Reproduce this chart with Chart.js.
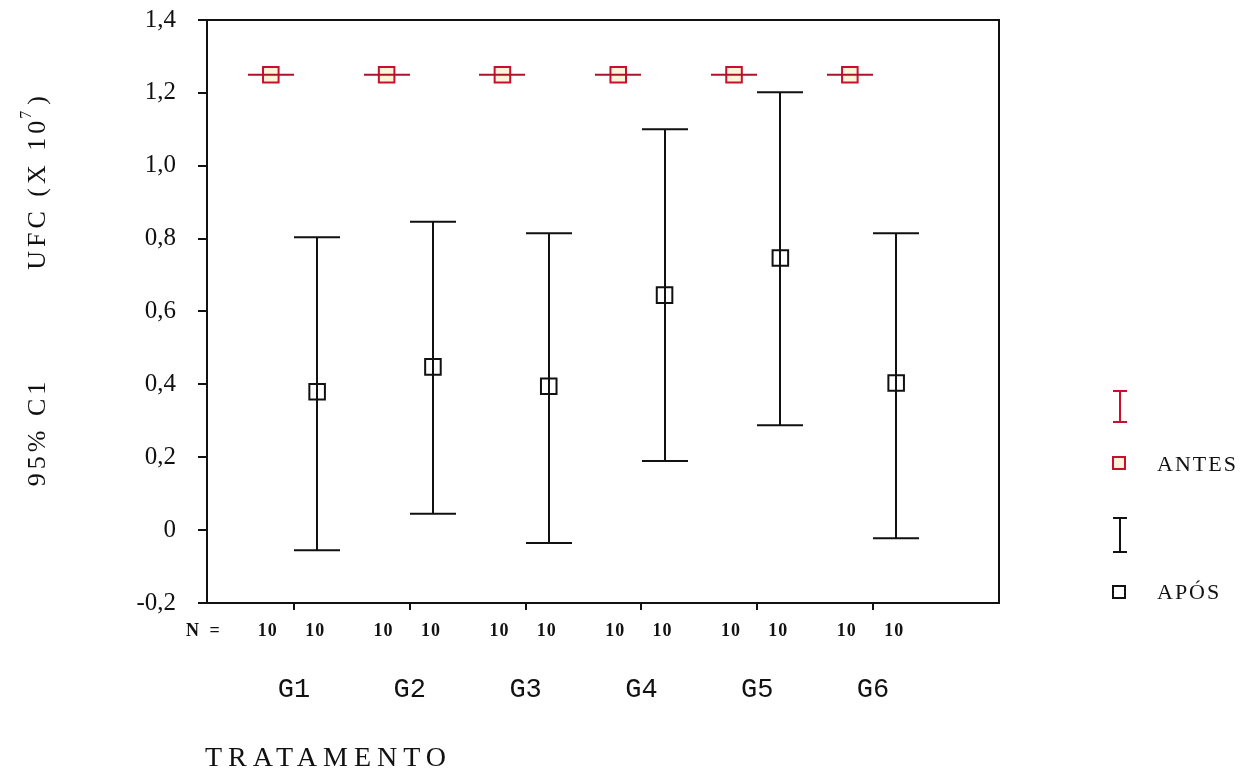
<!DOCTYPE html>
<html>
<head>
<meta charset="utf-8">
<script src="https://cdn.jsdelivr.net/npm/chart.js@4/dist/chart.umd.min.js"></script>
<style>
html,body{margin:0;padding:0;background:#fff;}
canvas{display:block;}
</style>
</head>
<body>
<canvas id="c" width="1256" height="780"></canvas>
<script>
// ---- data ----
const categories = ['G1', 'G2', 'G3', 'G4', 'G5', 'G6'];
const seriesNames = ['ANTES', 'APÓS'];
const antesMean  = [1.25, 1.25, 1.25, 1.25, 1.25, 1.25];
const antesLower = [1.25, 1.25, 1.25, 1.25, 1.25, 1.25];
const antesUpper = [1.25, 1.25, 1.25, 1.25, 1.25, 1.25];
const aposMean   = [0.38, 0.448, 0.395, 0.645, 0.747, 0.404];
const aposLower  = [-0.055, 0.045, -0.035, 0.19, 0.288, -0.022];
const aposUpper  = [0.804, 0.846, 0.815, 1.10, 1.202, 0.815];
const nAntes = [10, 10, 10, 10, 10, 10];
const nApos  = [10, 10, 10, 10, 10, 10];
const yTicks = [-0.2, 0, 0.2, 0.4, 0.6, 0.8, 1.0, 1.2, 1.4];
const xTitle = 'TRATAMENTO';
const yTitle1 = 'UFC (X 10';
const yTitleSup = '7';
const yTitle1End = ')';
const yTitle2 = '95% C1';

const RED = '#c8102e';
const BLACK = '#111';
const OFF = 0.2; // category offset of each series

const antesPts = categories.map((c, i) => ({x: i + 1 - OFF, y: antesMean[i]}));
const aposPts  = categories.map((c, i) => ({x: i + 1 + OFF, y: aposMean[i]}));

function fmt(v) {
  if (Math.abs(v) < 1e-9) return '0';
  return v.toFixed(1).replace('.', ',');
}

const drawPlugin = {
  id: 'extras',
  afterDatasetsDraw(chart) {
    const {ctx, scales: {x, y}} = chart;
    ctx.save();
    ctx.lineWidth = 2;
    function err(lo, hi, off, color) {
      ctx.strokeStyle = color;
      for (let i = 0; i < categories.length; i++) {
        const px = Math.round(x.getPixelForValue(i + 1 + off));
        const yl = y.getPixelForValue(lo[i]);
        const yh = y.getPixelForValue(hi[i]);
        ctx.beginPath();
        ctx.moveTo(px, yl); ctx.lineTo(px, yh);
        ctx.moveTo(px - 23, yl); ctx.lineTo(px + 23, yl);
        ctx.moveTo(px - 23, yh); ctx.lineTo(px + 23, yh);
        ctx.stroke();
      }
    }
    err(antesLower, antesUpper, -OFF, '#a8142c');
    err(aposLower, aposUpper, OFF, BLACK);
    ctx.restore();
  },
  afterDraw(chart) {
    const {ctx, chartArea: a, scales: {x, y}} = chart;
    ctx.save();
    // box top & right
    ctx.strokeStyle = BLACK;
    ctx.lineWidth = 2;
    ctx.beginPath();
    ctx.moveTo(a.left - 9, a.top);
    ctx.lineTo(a.right, a.top);
    ctx.lineTo(a.right, a.bottom);
    ctx.stroke();

    ctx.fillStyle = BLACK;
    ctx.textBaseline = 'middle';
    // N = row
    ctx.font = 'bold 18px "Liberation Serif"';
    ctx.textAlign = 'left';
    ctx.letterSpacing = '3px';
    ctx.fillText('N =', 186, 631);
    ctx.letterSpacing = '1px';
    ctx.textAlign = 'center';
    for (let i = 0; i < categories.length; i++) {
      ctx.fillText(String(nAntes[i]), x.getPixelForValue(i + 1 - OFF) - 3, 631);
      ctx.fillText(String(nApos[i]), x.getPixelForValue(i + 1 + OFF) - 2, 631);
    }
    ctx.letterSpacing = '0px';
    // group labels
    ctx.font = '27px "Liberation Mono"';
    for (let i = 0; i < categories.length; i++) {
      ctx.fillText(categories[i], x.getPixelForValue(i + 1), 690);
    }
    // x title
    ctx.font = '28px "Liberation Serif"';
    ctx.textAlign = 'left';
    ctx.letterSpacing = '6px';
    ctx.fillText(xTitle, 205, 759);

    // y titles (rotated)
    ctx.save();
    ctx.translate(38, 181);
    ctx.rotate(-Math.PI / 2);
    ctx.letterSpacing = '4px';
    ctx.font = '26px "Liberation Serif"';
    const w1 = ctx.measureText(yTitle1).width;
    ctx.font = '16px "Liberation Serif"';
    const w2 = ctx.measureText(yTitleSup).width;
    ctx.font = '26px "Liberation Serif"';
    const w3 = ctx.measureText(yTitle1End).width;
    let sx = -(w1 + w2 + w3) / 2;
    ctx.fillText(yTitle1, sx, 0);
    ctx.font = '16px "Liberation Serif"';
    ctx.fillText(yTitleSup, sx + w1 - 2, -11);
    ctx.font = '26px "Liberation Serif"';
    ctx.fillText(yTitle1End, sx + w1 + w2, 0);
    ctx.restore();

    ctx.save();
    ctx.translate(38, 432);
    ctx.rotate(-Math.PI / 2);
    ctx.letterSpacing = '4px';
    ctx.font = '26px "Liberation Serif"';
    ctx.textAlign = 'center';
    ctx.fillText(yTitle2, 0, 0);
    ctx.restore();

    // legend
    ctx.letterSpacing = '0px';
    function ibeam(cx, top, bot, color) {
      ctx.strokeStyle = color;
      ctx.lineWidth = 2;
      ctx.beginPath();
      ctx.moveTo(cx, top); ctx.lineTo(cx, bot);
      ctx.moveTo(cx - 7, top); ctx.lineTo(cx + 7, top);
      ctx.moveTo(cx - 7, bot); ctx.lineTo(cx + 7, bot);
      ctx.stroke();
    }
    function sq(cx, cy, color, fill) {
      ctx.fillStyle = fill;
      ctx.fillRect(cx - 6, cy - 6, 12, 12);
      ctx.strokeStyle = color;
      ctx.lineWidth = 2;
      ctx.strokeRect(cx - 6, cy - 6, 12, 12);
    }
    ibeam(1120, 391, 422, RED);
    sq(1119, 463, RED, 'rgba(255,240,210,0.8)');
    ibeam(1120, 518, 552, BLACK);
    sq(1119, 592, BLACK, '#fff');
    ctx.fillStyle = BLACK;
    ctx.textAlign = 'left';
    ctx.textBaseline = 'middle';
    ctx.font = '22px "Liberation Serif"';
    ctx.letterSpacing = '2px';
    ctx.fillText(seriesNames[0], 1157, 465);
    ctx.fillText(seriesNames[1], 1157, 593);
    ctx.restore();
  }
};

new Chart(document.getElementById('c'), {
  type: 'scatter',
  data: {
    datasets: [
      {
        label: seriesNames[0],
        data: antesPts,
        pointStyle: 'rect',
        pointRadius: 11,
        pointHoverRadius: 11,
        borderWidth: 2,
        pointBorderWidth: 2,
        borderColor: RED,
        pointBorderColor: RED,
        pointBackgroundColor: 'rgba(255,240,200,0.7)'
      },
      {
        label: seriesNames[1],
        data: aposPts,
        pointStyle: 'rect',
        pointRadius: 11,
        pointHoverRadius: 11,
        borderWidth: 2,
        pointBorderWidth: 2,
        borderColor: BLACK,
        pointBorderColor: BLACK,
        pointBackgroundColor: 'rgba(255,255,255,0)'
      }
    ]
  },
  options: {
    responsive: false,
    animation: false,
    devicePixelRatio: 1,
    layout: {padding: {top: 20, right: 257, left: 0, bottom: 0}},
    plugins: {legend: {display: false}, tooltip: {enabled: false}},
    scales: {
      x: {
        type: 'linear',
        min: 0.249,
        max: 7.088,
        afterBuildTicks(s) { s.ticks = categories.map((c, i) => ({value: i + 1})); },
        afterFit(s) { s.height = 177; s.paddingLeft = 0; s.paddingRight = 0; },
        ticks: {display: false},
        grid: {drawOnChartArea: false, drawTicks: true, tickLength: 7, color: BLACK, lineWidth: 2},
        border: {display: true, color: BLACK, width: 2}
      },
      y: {
        type: 'linear',
        min: -0.2,
        max: 1.4,
        afterBuildTicks(s) { s.ticks = yTicks.map(v => ({value: v})); },
        afterFit(s) { s.width = 207; s.paddingTop = 0; s.paddingBottom = 0; },
        ticks: {
          callback: (v) => fmt(v),
          padding: 22,
          color: BLACK,
          font: {family: '"Liberation Serif"', size: 25}
        },
        grid: {drawOnChartArea: false, drawTicks: true, tickLength: 9, color: BLACK, lineWidth: 2},
        border: {display: true, color: BLACK, width: 2}
      }
    }
  },
  plugins: [drawPlugin]
});
</script>
</body>
</html>
